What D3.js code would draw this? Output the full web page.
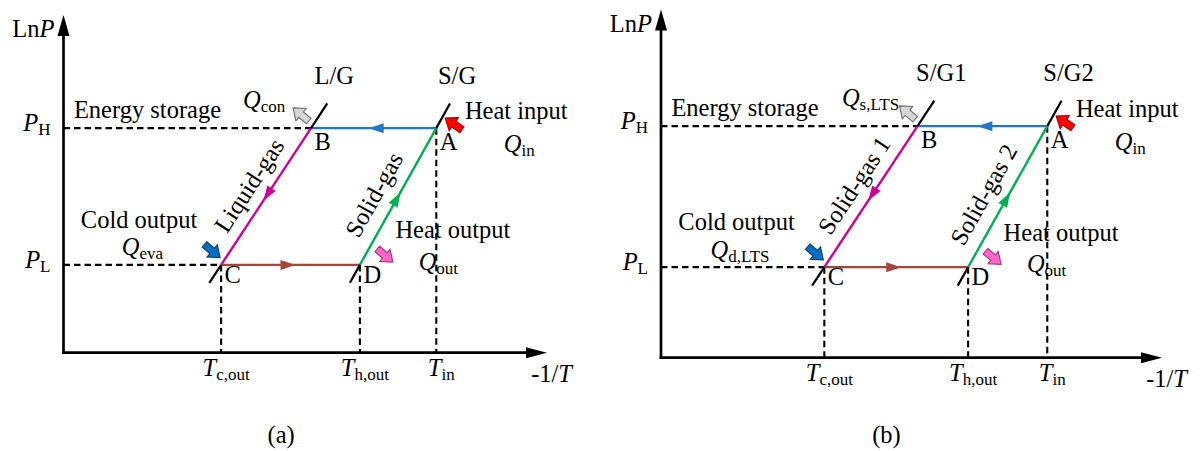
<!DOCTYPE html>
<html>
<head>
<meta charset="utf-8">
<script src="https://cdn.jsdelivr.net/npm/d3@7"></script>
<style>
  html, body { margin: 0; padding: 0; background: #fff; }
  svg { display: block; }
  text { font-family: "Liberation Serif", "Times New Roman", serif; fill: #000; }
</style>
</head>
<body>
<svg id="chart" width="1203" height="451"></svg>
<script>
// ---- Cycle states on the ln P vs -1/T plane (axis-normalised units) ----
const states = ["A", "B", "C", "D"];
const stateInvT = [0.771, 0.512, 0.326, 0.613];
const stateLnP = [0.665, 0.665, 0.26, 0.26];

// Pressure levels on the ordinate
const pressureSubs = ["H", "L"];
const pressureLevels = [0.665, 0.26];

// Temperatures on the abscissa, taken at these states
const tempStates = ["C", "D", "A"];
const tempSubs = ["c,out", "h,out", "in"];

// Processes of the cycle
const procFrom = ["A", "B", "C", "D"];
const procTo = ["B", "C", "D", "A"];

// Equilibrium lines (high-pressure state, low-pressure state)
const lineHigh = ["B", "A"];
const lineLow = ["C", "D"];
const lineNamesA = ["L/G", "S/G"];
const lineNamesB = ["S/G1", "S/G2"];
const processNamesA = ["Liquid-gas", "Solid-gas"];
const processNamesB = ["Solid-gas 1", "Solid-gas 2"];

// Heat exchanged at each state
const heatStates = ["B", "A", "C", "D"];
const heatTitles = ["Energy storage", "Heat input", "Cold output", "Heat output"];
const heatSubsA = ["con", "in", "eva", "out"];
const heatSubsB = ["s,LTS", "in", "d,LTS", "out"];

// ---- styling ----
const PROC_COLOR = { A: "#1f78c8", B: "#cc0099", C: "#a5463c", D: "#00b050" };
const HEAT_STYLE = {
  B: { fill: "#d6d6d6", stroke: "#6a6a6a", dx: -10, dy: -13.5, rot: -140 },
  A: { fill: "#ff0000", stroke: "#a80000", dx: 17.5, dy: -4, rot: -145 },
  C: { fill: "#0a6fc2", stroke: "#0b3f70", dx: -9, dy: -14, rot: 40 },
  D: { fill: "#ff66cc", stroke: "#a8307a", dx: 25, dy: -9.5, rot: 40 }
};
const FONT = 24.5, SUB = 17;

const svg = d3.select("#chart");
svg.append("rect").attr("width", 1203).attr("height", 451).attr("fill", "#fff");

// text with mixed italic / subscript parts
function rich(g, x, y, parts, anchor) {
  const t = g.append("text")
    .attr("x", x).attr("y", y)
    .attr("text-anchor", anchor || "start")
    .attr("font-size", FONT);
  parts.forEach(([s, st]) => {
    const ts = t.append("tspan").text(s);
    if (st === "i") ts.attr("font-style", "italic");
    if (st === "s") ts.attr("font-size", SUB).attr("dy", 4);
  });
  return t;
}

function drawPanel(cfg) {
  const g = svg.append("g");
  const x = d3.scaleLinear().domain([0, 1]).range([cfg.x0, cfg.x1]);
  const y = d3.scaleLinear().domain([0, 1]).range([cfg.y0, cfg.y1]);

  const pt = {};
  states.forEach((s, i) => { pt[s] = { v: stateInvT[i], p: stateLnP[i], x: x(stateInvT[i]), y: y(stateLnP[i]) }; });

  // dashed guides to the axes
  const guides = g.append("g").attr("stroke", "#000").attr("stroke-width", 2.1)
    .attr("stroke-dasharray", "6.5,4").attr("fill", "none");
  pressureLevels.forEach(lv => {
    const xs = states.filter((s, j) => stateLnP[j] === lv).map(s => pt[s].x);
    guides.append("line").attr("x1", x(0)).attr("x2", d3.min(xs))
      .attr("y1", y(lv)).attr("y2", y(lv));
  });
  tempStates.forEach(s => {
    guides.append("line").attr("x1", pt[s].x).attr("x2", pt[s].x)
      .attr("y1", pt[s].y).attr("y2", y(0));
  });

  // axes with arrowheads
  const axes = g.append("g");
  axes.append("line").attr("x1", x(0)).attr("x2", x(0)).attr("y1", y(0) + 1.3).attr("y2", y(1) + 18)
    .attr("stroke", "#000").attr("stroke-width", 2.7);
  axes.append("line").attr("x1", x(0) - 1.3).attr("x2", x(1) - 18).attr("y1", y(0)).attr("y2", y(0))
    .attr("stroke", "#000").attr("stroke-width", 2.7);
  axes.append("path")
    .attr("d", `M${x(0)},${y(1)} L${x(0) - 6},${y(1) + 21} L${x(0) + 6},${y(1) + 21} Z`);
  axes.append("path")
    .attr("d", `M${x(1)},${y(0)} L${x(1) - 21},${y(0) - 5.5} L${x(1) - 21},${y(0) + 5.5} Z`);

  // equilibrium lines: black stubs beyond the cycle corners
  const topP = pressureLevels[0] + 0.073, botP = pressureLevels[1] - 0.053;
  const stubs = [];
  lineHigh.forEach((h, i) => {
    const a = pt[h], b = pt[lineLow[i]];
    const at = p => a.v + (p - a.p) * (b.v - a.v) / (b.p - a.p);
    stubs.push({ x1: a.x, y1: a.y, x2: x(at(topP)), y2: y(topP) });
    stubs.push({ x1: b.x, y1: b.y, x2: x(at(botP)), y2: y(botP) });
  });

  // process lines
  procFrom.forEach((f, i) => {
    const a = pt[f], b = pt[procTo[i]];
    g.append("line").attr("x1", a.x).attr("y1", a.y).attr("x2", b.x).attr("y2", b.y)
      .attr("stroke", PROC_COLOR[f]).attr("stroke-width", 2.4);
  });
  g.selectAll(null).data(stubs).join("line")
    .attr("x1", d => d.x1).attr("y1", d => d.y1).attr("x2", d => d.x2).attr("y2", d => d.y2)
    .attr("stroke", "#000").attr("stroke-width", 2.2);

  // direction arrowheads at mid-process
  procFrom.forEach((f, i) => {
    const a = pt[f], b = pt[procTo[i]];
    const ang = Math.atan2(b.y - a.y, b.x - a.x) * 180 / Math.PI;
    const mx = (a.x + b.x) / 2, my = (a.y + b.y) / 2;
    g.append("path").attr("d", "M5,0 L-10,-5 L-10,5 Z")
      .attr("fill", PROC_COLOR[f])
      .attr("transform", `translate(${mx},${my}) rotate(${ang})`);
  });

  // heat flow block arrows
  heatStates.forEach(s => {
    const st = HEAT_STYLE[s];
    g.append("path")
      .attr("d", "M-10,-3.6 L0,-3.6 L0,-8 L10.5,0 L0,8 L0,3.6 L-10,3.6 Z")
      .attr("fill", st.fill).attr("stroke", st.stroke).attr("stroke-width", 1.1)
      .attr("stroke-linejoin", "miter")
      .attr("transform", `translate(${pt[s].x + st.dx},${pt[s].y + st.dy}) rotate(${st.rot})`);
  });

  // axis titles
  rich(g, x(0) - 9, y(1) + 22, [["Ln", "r"], ["P", "i"]], "end");
  rich(g, x(1) + 25, y(0) + 29.5, [["-1/", "r"], ["T", "i"]], "end");

  // pressure and temperature marks
  pressureLevels.forEach((lv, i) => {
    rich(g, x(0) - 13, y(lv) + 3, [["P", "i"], [pressureSubs[i], "s"]], "end");
  });
  tempStates.forEach((s, i) => {
    rich(g, pt[s].x + 5, y(0) + 23.5, [["T", "i"], [tempSubs[i], "s"]], "middle");
  });

  // state letters
  states.forEach(s => {
    const below = pt[s].p === pressureLevels[0] ? 22 : 18;
    rich(g, pt[s].x + 3.5, pt[s].y + below, [[s, "r"]]);
  });

  // equilibrium line names and process names
  lineHigh.forEach((h, i) => {
    const top = stubs[2 * i];
    rich(g, top.x2 + 7, top.y2 - 19.5, [[cfg.lineNames[i], "r"]], "middle");

    const a = pt[h], b = pt[lineLow[i]];
    const dx = a.x - b.x, dy = a.y - b.y, len = Math.hypot(dx, dy);
    const ux = dx / len, uy = dy / len, nx = uy, ny = -ux;
    const off = i === 0 ? 19.3 : 21, along = i === 0 ? 0 : -10;
    const cx = (a.x + b.x) / 2 + nx * off + ux * along;
    const cy = (a.y + b.y) / 2 + ny * off + uy * along;
    g.append("text")
      .attr("transform", `translate(${cx},${cy}) rotate(${Math.atan2(dy, dx) * 180 / Math.PI})`)
      .attr("text-anchor", "middle").attr("dy", "0.3em")
      .attr("font-size", FONT).text(cfg.processNames[i]);
  });

  // heat flow titles and symbols
  const yH = y(pressureLevels[0]), yL = y(pressureLevels[1]);
  const titlePos = {
    B: [x(0) + 84, yH - 10.5], A: [pt.A.x + 80, yH - 9.5],
    C: [x(0) + 75.5, yL - 37], D: [pt.D.x + 93, yL - 26.5]
  };
  const symPos = {
    B: [pt.B.x - 47, yH - 20], A: [pt.A.x + 83, yH + 24],
    C: [x(0) + 79, yL - 9.5], D: [pt.D.x + 78.5, yL + 5]
  };
  heatStates.forEach((s, i) => {
    rich(g, titlePos[s][0], titlePos[s][1], [[heatTitles[i], "r"]], "middle");
    rich(g, symPos[s][0], symPos[s][1], [["Q", "i"], [cfg.heatSubs[i], "s"]], "middle");
  });

  // panel tag
  rich(g, x(0.45), 443, [[cfg.tag, "r"]], "middle");
}

drawPanel({ x0: 63.5, x1: 547, y0: 352.7, y1: 15, tag: "(a)",
  lineNames: lineNamesA, processNames: processNamesA, heatSubs: heatSubsA });
drawPanel({ x0: 661, x1: 1162, y0: 357.7, y1: 9.5, tag: "(b)",
  lineNames: lineNamesB, processNames: processNamesB, heatSubs: heatSubsB });
</script>
</body>
</html>
